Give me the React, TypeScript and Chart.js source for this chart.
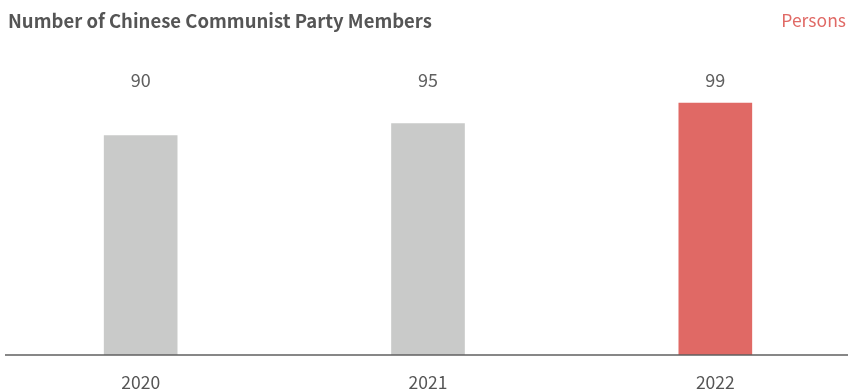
import React, { useEffect, useRef } from "react";
import { Chart, registerables } from "chart.js";

Chart.register(...registerables);

const categories = ["2020", "2021", "2022"];
const barValues = [86.2, 90.9, 99];
const valueLabels = ["90", "95", "99"];
const barColors = ["#c9cac9", "#c9cac9", "#e06965"];
const title = "Number of Chinese Communist Party Members";
const unit = "Persons";

const FONT = "'Noto Sans CJK SC', 'Noto Sans', sans-serif";

export default function App() {
  const ref = useRef<HTMLCanvasElement | null>(null);

  useEffect(() => {
    document.body.style.margin = "0";
    const ctx = ref.current!;
    const overlay = {
      id: "overlay",
      afterDatasetsDraw(chart: any) {
        const c = chart.ctx;
        const area = chart.chartArea;
        c.save();
        c.strokeStyle = "#5f5f5f";
        c.lineWidth = 1.6;
        c.beginPath();
        c.moveTo(8, area.bottom);
        c.lineTo(851, area.bottom);
        c.stroke();
        const meta = chart.getDatasetMeta(0);
        c.fillStyle = "#606060";
        c.font = `18px ${FONT}`;
        c.textAlign = "center";
        c.textBaseline = "middle";
        meta.data.forEach((bar: any, i: number) => {
          c.fillText(valueLabels[i], bar.x, 80);
        });
        c.restore();
      },
    };
    const chart = new Chart(ctx, {
      type: "bar",
      data: {
        labels: categories,
        datasets: [
          {
            data: barValues,
            backgroundColor: barColors,
            barThickness: 73,
            borderWidth: 0,
          },
        ],
      },
      options: {
        animation: false,
        responsive: false,
        maintainAspectRatio: false,
        layout: { padding: { top: 75, bottom: 8, left: 0, right: 0 } },
        plugins: { legend: { display: false }, tooltip: { enabled: false } },
        scales: {
          y: { display: false, min: 0, max: 110 },
          x: {
            grid: { display: false, drawTicks: false },
            border: { display: false },
            ticks: {
              color: "#555555",
              font: { family: FONT, size: 17.5 },
              padding: 17,
            },
          },
        },
      },
      plugins: [overlay],
    });
    return () => chart.destroy();
  }, []);

  return (
    <div
      style={{
        position: "relative",
        width: 848,
        height: 390,
        overflow: "hidden",
        background: "#fff",
      }}
    >
      <canvas
        ref={ref}
        width={862}
        height={418}
        style={{ position: "absolute", left: -3, top: 0, width: 862, height: 418 }}
      />
      <div
        style={{
          position: "absolute",
          left: 8,
          top: 8,
          fontFamily: FONT,
          fontWeight: 700,
          fontSize: 18.5,
          lineHeight: "24px",
          color: "#555555",
          whiteSpace: "nowrap",
        }}
      >
        {title}
      </div>
      <div
        style={{
          position: "absolute",
          right: 2,
          top: 8,
          fontFamily: FONT,
          fontSize: 17.5,
          lineHeight: "24px",
          color: "#e06965",
          whiteSpace: "nowrap",
        }}
      >
        {unit}
      </div>
    </div>
  );
}
